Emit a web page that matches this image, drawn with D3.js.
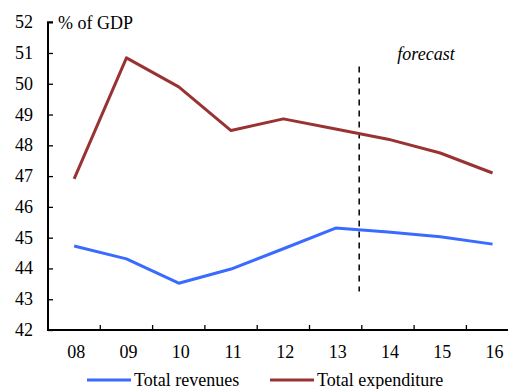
<!DOCTYPE html>
<html><head><meta charset="utf-8">
<script src="https://cdn.jsdelivr.net/npm/d3@7"></script>
<style>.c text{font-family:"Liberation Serif",serif}</style>
</head><body style="margin:0">
<svg width="508" height="389" class="c" id="chart" style="position:absolute;left:0;top:0"></svg>
<script>
const categories = ["08","09","10","11","12","13","14","15","16"];
const revenues = [44.73,44.31,43.52,43.98,44.64,45.31,45.18,45.03,44.79];
const expenditure = [46.91,50.84,49.9,48.48,48.86,48.53,48.2,47.75,47.1];
const yTicks = [42,43,44,45,46,47,48,49,50,51,52];
const seriesNames = ["Total revenues","Total expenditure"];
const colors = ["#3A6BFF","#993333"];
const forecastAfter = "13";

const W=508,H=389,FS=18;
const svg=d3.select("#chart");
const x0=48, step=52.3;
const x=d3.scaleBand().domain(categories).range([x0,x0+step*categories.length]);
const y=d3.scaleLinear().domain([42,52]).range([330,22.2]);
const T=(sel)=>sel.append("text").attr("font-family","Liberation Serif").attr("fill","#000");

// clipped title (only descenders visible, as in the reference)
T(svg).attr("x",258).attr("y",-4).attr("text-anchor","middle")
  .attr("font-weight","bold").attr("font-size",17).text("Total revenues and expenditure (in per cent of GDP, 2008-2016),");

// y axis
const ya=svg.append("g").attr("transform",`translate(${x0},0)`)
  .call(d3.axisRight(y).tickValues(yTicks).tickSize(5).tickFormat(""));
ya.select(".domain").attr("d",`M5,${y(52)}H0V${y(42)}`).attr("stroke","#000").attr("stroke-width",2);
ya.selectAll(".tick line").attr("stroke","#000").attr("stroke-width",1.3);
const yl=svg.append("g");
yTicks.forEach(d=>T(yl).attr("x",33).attr("y",y(d)+6).attr("text-anchor","end").attr("font-size",FS).text(d));

// x axis
const bounds=categories.slice(1).map(c=>x(c));
const xa=svg.append("g").attr("transform",`translate(0,330)`);
xa.append("line").attr("x1",x0-1).attr("x2",W).attr("stroke","#000").attr("stroke-width",2);
bounds.forEach(d=>xa.append("line").attr("x1",d).attr("x2",d).attr("y1",0).attr("y2",-5).attr("stroke","#000").attr("stroke-width",1.3));
categories.forEach(d=>T(xa).attr("x",x(d)+x.bandwidth()/2+2).attr("y",28).attr("text-anchor","middle").attr("font-size",FS).text(d));

T(svg).attr("x",58).attr("y",29).attr("font-size",FS).text("% of GDP");

// forecast line
const fx=x(forecastAfter)+x.bandwidth()*0.95;
svg.append("line").attr("x1",fx).attr("x2",fx).attr("y1",y(50.56)).attr("y2",y(43.25))
  .attr("stroke","#000").attr("stroke-width",1.5).attr("stroke-dasharray","6,5");
T(svg).attr("x",426).attr("y",60).attr("text-anchor","middle").attr("font-size",FS)
  .attr("font-style","italic").text("forecast");

const line=d3.line().x((d,i)=>x(categories[i])+x.bandwidth()/2).y(d=>y(d));
[revenues,expenditure].forEach((s,i)=>{
  svg.append("path").attr("d",line(s)).attr("fill","none").attr("stroke",colors[i])
    .attr("stroke-width",3).attr("stroke-linejoin","round");
});

// legend
const leg=[{x:87,name:seriesNames[0],c:colors[0]},{x:270,name:seriesNames[1],c:colors[1]}];
leg.forEach(l=>{
  svg.append("line").attr("x1",l.x).attr("x2",l.x+44).attr("y1",380).attr("y2",380).attr("stroke",l.c).attr("stroke-width",3);
  T(svg).attr("x",l.x+47).attr("y",386).attr("font-size",FS).text(l.name);
});
</script>
</body></html>
